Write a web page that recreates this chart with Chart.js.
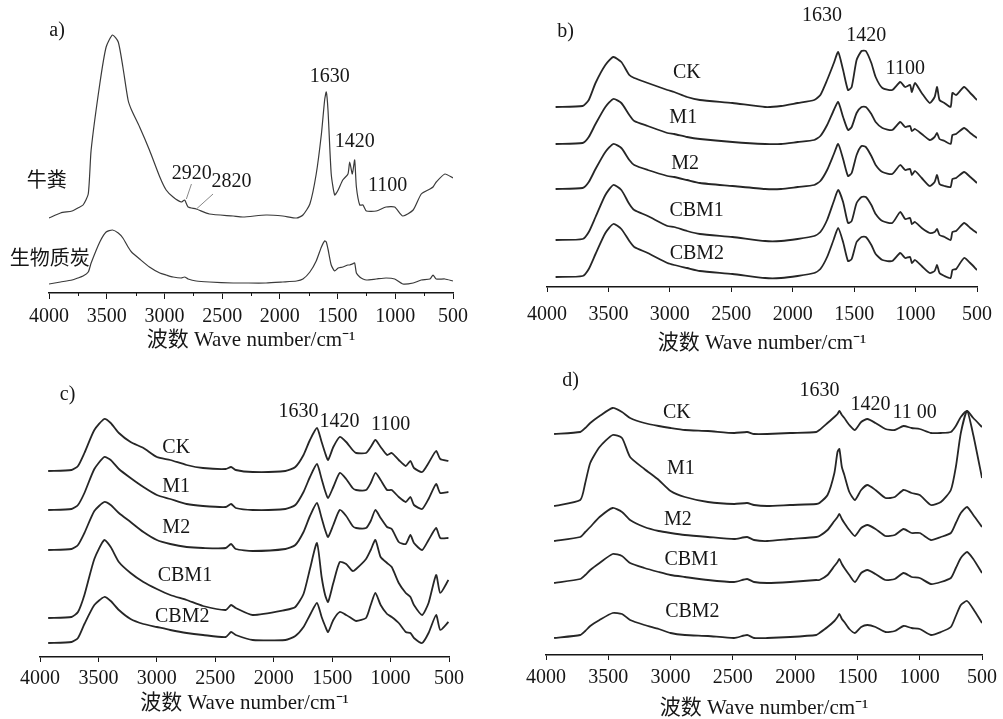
<!DOCTYPE html>
<html>
<head>
<meta charset="utf-8">
<script src="https://cdn.jsdelivr.net/npm/chart.js@4.4.1/dist/chart.umd.min.js"></script>
<style>
    html, body { margin: 0; padding: 0; background: #fff; }
    #page { position: relative; width: 1003px; height: 719px; overflow: hidden; }
    #page canvas { position: absolute; }
</style>
</head>
<body>
<div id="page">
    <canvas id="panelA" width="500" height="360" style="left:0;top:0"></canvas>
    <canvas id="panelB" width="503" height="360" style="left:500px;top:0"></canvas>
    <canvas id="panelC" width="500" height="349" style="left:0;top:370px"></canvas>
    <canvas id="panelD" width="503" height="349" style="left:500px;top:370px"></canvas>
</div>
<script>
'use strict';

// tick labels shared by all four panels
var X_TICKS = [4000, 3500, 3000, 2500, 2000, 1500, 1000, 500];
var X_TITLE = '波数 Wave number/cm⁻¹';

// a) raw material spectra
var A_WAVENUMBER = [4000, 3900, 3800, 3750, 3705, 3660, 3635, 3560, 3505, 3450, 3400, 3360, 3315, 3285, 3215,
    3130, 3040, 2985, 2925, 2855, 2825, 2795, 2725, 2610, 2405, 2320, 2120, 1975, 1855, 1800, 1740, 1685,
    1640, 1612, 1598, 1583, 1555, 1525, 1495, 1455, 1410, 1395, 1372, 1352, 1337, 1308, 1280, 1250, 1165,
    1080, 1005, 935, 845, 775, 700, 673, 645, 570, 500];
var A_COW_MANURE = [75, 80, 82, 85, 88, 99, 143, 209, 246, 258, 251, 226, 193, 183, 166,
    143, 116, 103, 96, 91, 93, 86, 84, 79, 77, 76, 78, 77, 75, 78, 89, 119,
    159, 193, 201, 183, 119, 98, 103, 113, 119, 131, 119, 133, 106, 88, 88, 82, 82,
    86, 86, 77, 83, 99, 104, 106, 111, 119, 115];
var A_BIOCHAR = [9, 11, 13, 15, 17, 21, 30, 51, 61, 63, 60, 55, 46, 41, 34,
    26, 20, 18, 16, 15, 16, 14, 12, 11, 10, 10, 10, 11, 12, 14, 21, 32,
    46, 52, 51, 44, 28, 22, 25, 26, 28, 28, 29, 30, 20, 16, 14, 13, 14,
    15, 14, 9, 10, 13, 14, 18, 14, 14, 12];

// b) treatments
var B_WAVENUMBER = [3930, 3710, 3660, 3605, 3525, 3460, 3395, 3330, 3290, 3180, 3020, 2965, 2860, 2755, 2490,
    2225, 2095, 1960, 1825, 1775, 1720, 1665, 1630, 1590, 1550, 1520, 1480, 1440, 1405, 1360, 1325, 1270,
    1190, 1125, 1085, 1045, 1030, 1005, 950, 885, 845, 825, 805, 765, 715, 700, 670, 605, 555, 500];
var B_CK = [180, 181, 187, 204, 222, 230, 225, 212, 209, 204, 197, 195, 190, 187, 184,
    180, 181, 184, 187, 192, 207, 224, 235, 217, 197, 200, 227, 236, 236, 224, 210, 199,
    197, 205, 200, 202, 195, 204, 194, 184, 190, 200, 187, 184, 180, 194, 192, 200, 194, 187];
var B_M1 = [143, 144, 150, 163, 180, 188, 184, 172, 166, 161, 154, 153, 150, 148, 145,
    143, 143, 145, 147, 151, 162, 177, 185, 170, 157, 160, 174, 180, 180, 173, 165, 159,
    157, 165, 160, 161, 156, 158, 153, 147, 150, 154, 148, 146, 143, 152, 153, 159, 154, 149];
var B_M2 = [98, 99, 105, 118, 135, 143, 139, 127, 122, 117, 111, 110, 107, 104, 101,
    98, 98, 100, 102, 106, 117, 133, 143, 128, 111, 114, 132, 141, 140, 131, 122, 115,
    113, 122, 117, 118, 112, 116, 109, 101, 105, 112, 103, 101, 100, 108, 109, 115, 110, 104];
var B_CBM1 = [47, 48, 55, 70, 92, 102, 97, 83, 77, 71, 61, 60, 56, 53, 50,
    46, 46, 48, 51, 55, 67, 86, 97, 85, 64, 66, 84, 90, 90, 82, 73, 66,
    64, 75, 68, 69, 63, 65, 59, 54, 55, 58, 52, 50, 47, 55, 56, 64, 59, 54];
var B_CBM2 = [10, 11, 18, 33, 54, 63, 58, 46, 40, 34, 24, 22, 19, 16, 13,
    9, 9, 11, 14, 18, 30, 48, 59, 45, 26, 28, 45, 50, 50, 42, 33, 27,
    26, 34, 29, 30, 24, 27, 21, 14, 16, 22, 14, 11, 9, 17, 18, 29, 24, 17];

// c) treatments
var C_WAVENUMBER = [3930, 3730, 3675, 3620, 3535, 3450, 3395, 3325, 3225, 3115, 3000, 2885, 2745, 2605, 2410,
    2365, 2325, 2180, 1900, 1815, 1745, 1690, 1630, 1590, 1560, 1535, 1490, 1435, 1380, 1325, 1295,
    1210, 1170, 1130, 1085, 1030, 990, 930, 870, 830, 800, 730, 675, 610, 575, 505];
var C_CK = [186, 187, 191, 204, 227, 238, 234, 224, 215, 209, 200, 197, 192, 189, 188,
    190, 187, 185, 186, 190, 202, 217, 229, 215, 204, 197, 210, 220, 215, 207, 204,
    204, 210, 217, 210, 202, 204, 197, 191, 196, 189, 185, 194, 206, 198, 196];
var C_M1 = [147, 148, 152, 164, 188, 200, 197, 188, 179, 170, 162, 158, 153, 151, 150,
    153, 149, 147, 148, 152, 165, 180, 193, 178, 166, 159, 170, 184, 178, 169, 167,
    167, 174, 184, 177, 167, 167, 160, 155, 160, 152, 148, 158, 173, 164, 165];
var C_M2 = [107, 108, 112, 124, 146, 155, 152, 144, 135, 125, 117, 113, 110, 109, 109,
    113, 108, 106, 108, 112, 125, 141, 154, 139, 127, 120, 132, 147, 141, 131, 129,
    129, 136, 147, 139, 130, 128, 115, 113, 122, 114, 107, 117, 129, 119, 119];
var C_CBM1 = [39, 40, 45, 62, 98, 117, 110, 95, 84, 75, 68, 62, 57, 51, 47,
    52, 49, 42, 47, 50, 63, 88, 114, 80, 62, 55, 74, 95, 93, 86, 88,
    98, 107, 117, 100, 94, 90, 74, 64, 60, 52, 42, 54, 82, 64, 77];
var C_CBM2 = [14, 15, 19, 33, 52, 60, 56, 47, 38, 33, 30, 27, 24, 22, 20,
    25, 22, 17, 17, 21, 30, 42, 54, 40, 31, 25, 37, 45, 42, 38, 36,
    39, 52, 64, 52, 43, 40, 34, 25, 24, 19, 14, 24, 42, 27, 35];

// d) treatments
var D_WAVENUMBER = [3935, 3725, 3685, 3645, 3570, 3465, 3390, 3325, 3210, 3095, 3000, 2885, 2700, 2490, 2385,
    2330, 2225, 2040, 1830, 1805, 1740, 1685, 1660, 1645, 1625, 1605, 1565, 1520, 1470, 1420,
    1355, 1275, 1200, 1130, 1065, 1000, 910, 830, 750, 710, 670, 620, 570, 500];
var D_CK = [221, 223, 227, 232, 239, 247, 243, 237, 232, 229, 227, 225, 224, 222, 223,
    221, 221, 222, 223, 225, 232, 238, 241, 244, 240, 237, 230, 225, 233, 236,
    232, 226, 225, 229, 227, 226, 222, 222, 223, 229, 238, 244, 237, 228];
var D_M1 = [149, 155, 172, 192, 208, 220, 217, 198, 186, 175, 164, 158, 153, 151, 152,
    150, 149, 150, 151, 152, 160, 182, 203, 206, 188, 180, 163, 155, 165, 170,
    165, 157, 158, 165, 162, 160, 150, 153, 165, 188, 222, 244, 220, 177];
var D_M2 = [114, 118, 123, 128, 138, 147, 143, 135, 128, 124, 122, 120, 118, 116, 118,
    115, 114, 116, 118, 119, 125, 134, 138, 141, 136, 132, 125, 119, 127, 130,
    126, 119, 120, 126, 122, 122, 115, 118, 122, 132, 142, 148, 140, 128];
var D_CBM1 = [72, 76, 80, 85, 92, 101, 99, 92, 87, 83, 80, 78, 75, 73, 76,
    73, 72, 73, 75, 75, 80, 89, 93, 96, 91, 87, 80, 73, 82, 85,
    81, 75, 76, 82, 78, 77, 71, 73, 77, 87, 97, 103, 96, 82];
var D_CBM2 = [17, 20, 24, 29, 35, 42, 41, 35, 30, 26, 22, 20, 19, 17, 20,
    17, 17, 18, 20, 22, 28, 34, 38, 41, 36, 33, 26, 22, 28, 30,
    28, 23, 24, 29, 27, 26, 20, 23, 28, 39, 50, 54, 46, 32];

// ----------------------------
// Styles
// ----------------------------

var SERIF = "'Liberation Serif', 'Times New Roman', serif";
var CJK = "'Liberation Serif', 'Noto Sans CJK SC', serif";
var INK = '#161616';

/**
 * Turns a wavenumber array and a value array into chart points
 */
function toPoints(xs, ys) {
    return xs.map(function (x, i) { return {x: x, y: ys[i]}; });
}

/**
 * Plugin that writes the peak and sample names on a panel
 */
function notesPlugin(notes, leaders, minorTicks) {
    return {
        id: 'notes',
        afterDraw: function (chart) {
            var ctx = chart.ctx;
            var xs = chart.scales.x;
            var ys = chart.scales.y;
            ctx.save();
            ctx.fillStyle = INK;
            ctx.textAlign = 'center';
            ctx.textBaseline = 'middle';
            notes.forEach(function (n) {
                ctx.font = n[3] || ('20px ' + SERIF);
                ctx.fillText(n[0], xs.getPixelForValue(n[1]), ys.getPixelForValue(n[2]));
            });
            ctx.strokeStyle = '#888';
            ctx.lineWidth = 1;
            (leaders || []).forEach(function (l) {
                ctx.beginPath();
                ctx.moveTo(xs.getPixelForValue(l[0]), ys.getPixelForValue(l[1]));
                ctx.lineTo(xs.getPixelForValue(l[2]), ys.getPixelForValue(l[3]));
                ctx.stroke();
            });
            ctx.strokeStyle = INK;
            (minorTicks || []).forEach(function (v) {
                var px = Math.round(xs.getPixelForValue(v)) + 0.5;
                ctx.beginPath();
                ctx.moveTo(px, xs.top);
                ctx.lineTo(px, xs.top + 3);
                ctx.stroke();
            });
            ctx.restore();
        }
    };
}

/**
 * Builds one spectrum panel
 */
function makePanel(id, p) {
    var datasets = p.series.map(function (s) {
        return {
            data: toPoints(p.wavenumber, s),
            borderColor: p.lineColor,
            borderWidth: p.lineWidth,
            pointRadius: 0,
            tension: 0.2,
            fill: false,
        };
    });
    return new Chart(document.getElementById(id).getContext('2d'), {
        type: 'line',
        data: {datasets: datasets},
        options: {
            responsive: false,
            animation: false,
            devicePixelRatio: 1,
            layout: {padding: {left: p.left, right: p.right, top: p.top, bottom: 0}},
            plugins: {legend: {display: false}, tooltip: {enabled: false}},
            scales: {
                x: {
                    type: 'linear',
                    reverse: true,
                    min: 500,
                    max: 4000,
                    afterBuildTicks: function (scale) {
                        scale.ticks = X_TICKS.map(function (v) { return {value: v}; });
                    },
                    afterFit: function (scale) { scale.height = p.axisHeight; },
                    border: {display: true, color: INK, width: 1.5},
                    grid: {drawOnChartArea: false, drawTicks: true, tickLength: p.tickLength, color: INK},
                    ticks: {
                        color: INK,
                        padding: p.tickPadding,
                        maxRotation: 0,
                        autoSkip: false,
                        font: {family: SERIF, size: 20},
                        callback: function (v) { return String(v); },
                    },
                    title: {
                        display: true,
                        text: X_TITLE,
                        color: INK,
                        font: {family: CJK, size: 21, lineHeight: 1},
                        padding: {top: 0, bottom: p.titlePad},
                    },
                },
                y: {display: false, min: 0, max: p.yMax},
            },
        },
        plugins: [notesPlugin(p.notes, p.leaders, p.minorTicks)],
    });
}

// ----------------------------
// Panels
// ----------------------------

makePanel('panelA', {
    wavenumber: A_WAVENUMBER,
    series: [A_COW_MANURE, A_BIOCHAR],
    lineColor: '#3a3a3a', lineWidth: 1.2,
    left: 49, right: 47, top: 23, yMax: 270, axisHeight: 67,
    tickLength: 6, tickPadding: 6, titlePad: 9,
    minorTicks: [3750, 3250, 2750, 2250, 1750, 1250, 750],
    notes: [
        ['a)', 3930, 262],
        ['1630', 1568, 216],
        ['1420', 1352, 151],
        ['2920', 2764, 119],
        ['2820', 2418, 111],
        ['1100', 1066, 107],
        ['牛粪', 4020, 111, '20px ' + CJK],
        ['生物质炭', 3994, 33, '20px ' + CJK],
    ],
    leaders: [[2766, 109, 2810, 94], [2579, 99, 2723, 84]],
});

makePanel('panelB', {
    wavenumber: B_WAVENUMBER,
    series: [B_CK, B_M1, B_M2, B_CBM1, B_CBM2],
    lineColor: '#262626', lineWidth: 1.8,
    left: 47, right: 20, top: 37, yMax: 250, axisHeight: 73,
    tickLength: 5, tickPadding: 11, titlePad: 6,
    notes: [
        ['b)', 3848, 255],
        ['1630', 1762, 271],
        ['1420', 1402, 251],
        ['1100', 1084, 218],
        ['CK', 2862, 214],
        ['M1', 2891, 169],
        ['M2', 2875, 123],
        ['CBM1', 2782, 76],
        ['CBM2', 2780, 33],
    ],
});

makePanel('panelC', {
    wavenumber: C_WAVENUMBER,
    series: [C_CK, C_M1, C_M2, C_CBM1, C_CBM2],
    lineColor: '#262626', lineWidth: 1.8,
    left: 40, right: 51, top: 37, yMax: 250, axisHeight: 62,
    tickLength: 5, tickPadding: 5, titlePad: 5,
    notes: [
        ['c)', 3764, 262],
        ['1630', 1788, 245],
        ['1420', 1436, 235],
        ['1100', 999, 232],
        ['CK', 2834, 209],
        ['M1', 2836, 170],
        ['M2', 2834, 129],
        ['CBM1', 2760, 81],
        ['CBM2', 2783, 40],
    ],
});

makePanel('panelD', {
    wavenumber: D_WAVENUMBER,
    series: [D_CK, D_M1, D_M2, D_CBM1, D_CBM2],
    lineColor: '#262626', lineWidth: 1.8,
    left: 46, right: 18, top: 35, yMax: 250, axisHeight: 64,
    tickLength: 5, tickPadding: 6, titlePad: 0,
    notes: [
        ['d)', 3802, 274],
        ['1630', 1804, 264],
        ['1420', 1395, 250],
        ['11 00', 1040, 242],
        ['CK', 2949, 242],
        ['M1', 2917, 186],
        ['M2', 2941, 135],
        ['CBM1', 2831, 95],
        ['CBM2', 2825, 43],
    ],
});
</script>
</body>
</html>
